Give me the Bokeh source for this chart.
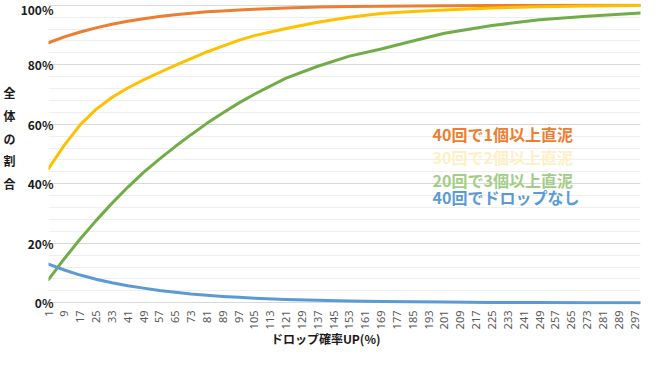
import math
from bokeh.plotting import figure
from bokeh.models import (Range1d, FixedTicker, SingleIntervalTicker, NumeralTickFormatter,
                          Label, LinearAxis)
from bokeh.embed import file_html
from bokeh.resources import INLINE

# ---- data ----
drop_up = [1, 9, 17, 25, 33, 41, 49, 57, 65, 73, 81, 89, 97, 105,
           121, 137, 153, 169, 185, 201, 225, 249, 273, 300]

one_or_more_in_40 = [0.874, 0.894, 0.910, 0.924, 0.936, 0.946, 0.955, 0.962, 0.968, 0.973,
                     0.978, 0.981, 0.984, 0.987, 0.991, 0.994, 0.996, 0.997, 0.998, 0.9985,
                     0.999, 0.9995, 0.9997, 0.9999]
two_or_more_in_30 = [0.451, 0.530, 0.598, 0.650, 0.690, 0.722, 0.749, 0.774, 0.798, 0.821,
                     0.843, 0.863, 0.882, 0.898, 0.922, 0.943, 0.960, 0.972, 0.979, 0.984,
                     0.991, 0.995, 0.998, 0.999]
three_or_more_in_20 = [0.078, 0.148, 0.214, 0.276, 0.334, 0.388, 0.438, 0.483, 0.525, 0.565,
                       0.603, 0.638, 0.671, 0.701, 0.755, 0.795, 0.829, 0.853, 0.880, 0.906,
                       0.932, 0.951, 0.963, 0.974]
none_in_40 = [0.130, 0.110, 0.093, 0.079, 0.067, 0.057, 0.049, 0.041, 0.035, 0.029,
              0.025, 0.021, 0.018, 0.015, 0.011, 0.008, 0.0055, 0.004, 0.003, 0.002,
              0.001, 0.0005, 0.0003, 0.0002]

series_labels = ["40回で1個以上直泥", "30回で2個以上直泥", "20回で3個以上直泥", "40回でドロップなし"]
line_colors = ["#ED7D31", "#FFC000", "#70AD47", "#5B9BD5"]
label_colors = ["#ED7D31", "#FDEFC6", "#A3CD86", "#5B9BD5"]
x_tick_values = list(range(1, 298, 8))
y_axis_chars = ["全", "体", "の", "割", "合"]
y_char_positions = [0.706, 0.629, 0.552, 0.479, 0.402]
x_title = "ドロップ確率UP(%)"
x_title_position = 141

JP = "Noto Sans CJK JP"


def bare_axis(axis, font, size, bold, color, standoff):
    axis.axis_label = None
    axis.axis_line_color = None
    axis.major_tick_line_color = None
    axis.minor_tick_line_color = None
    axis.major_tick_out = 0
    axis.major_tick_in = 0
    axis.minor_tick_out = 0
    axis.minor_tick_in = 0
    axis.major_label_standoff = standoff
    axis.major_label_text_font = font
    axis.major_label_text_font_size = size
    axis.major_label_text_font_style = "bold" if bold else "normal"
    axis.major_label_text_color = color


p = figure(width=643, height=349, output_backend="svg", toolbar_location=None,
           x_range=Range1d(1, 300), y_range=Range1d(-0.006, 1.006),
           min_border_left=0, min_border_right=3, min_border_top=3, min_border_bottom=0)
p.outline_line_color = None
p.background_fill_color = "white"
p.border_fill_color = "white"

# y axis / grid
p.yaxis.ticker = SingleIntervalTicker(interval=0.2, num_minor_ticks=5)
p.yaxis.formatter = NumeralTickFormatter(format="0%")
bare_axis(p.yaxis[0], JP, "12px", True, "#1a1a1a", -5)
p.ygrid.grid_line_color = "#d9d9d9"
p.ygrid.minor_grid_line_color = "#eeeeee"
p.xgrid.grid_line_color = None

# upright stacked y-axis title, drawn as an outer axis whose labels are the characters
char_axis = LinearAxis(ticker=FixedTicker(ticks=y_char_positions),
                       major_label_overrides={v: c for v, c in zip(y_char_positions, y_axis_chars)})
bare_axis(char_axis, JP, "12px", True, "#1a1a1a", 2)
p.add_layout(char_axis, "left")

# x axis
p.xaxis.ticker = FixedTicker(ticks=x_tick_values)
p.xaxis.major_label_orientation = math.pi / 2
bare_axis(p.xaxis[0], "Noto Sans", "11px", False, "#595959", 6)

# x-axis title as an outer axis with one labelled position
title_axis = LinearAxis(ticker=FixedTicker(ticks=[x_title_position]),
                        major_label_overrides={x_title_position: x_title})
bare_axis(title_axis, JP, "12px", True, "#1a1a1a", -3)
p.add_layout(title_axis, "below")

series = [one_or_more_in_40, two_or_more_in_30, three_or_more_in_20, none_in_40]
for vals, col in zip(series, line_colors):
    p.line(drop_up, vals, line_color=col, line_width=3, line_join="round", line_cap="round")

label_ys = [0.566, 0.489, 0.413, 0.355]
for txt, col, yy in zip(series_labels, label_colors, label_ys):
    p.add_layout(Label(x=195, y=yy, text=txt, text_font=JP, text_font_size="16px",
                       text_font_style="bold", text_color=col, text_baseline="middle",
                       text_align="left"))

open("out.html", "w").write(file_html(p, INLINE))
